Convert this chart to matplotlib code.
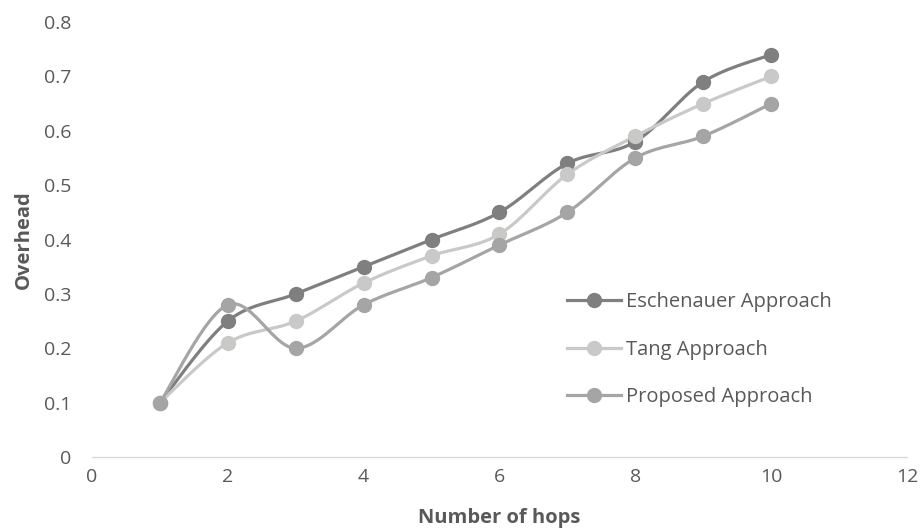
import numpy as np
import matplotlib
matplotlib.use("Agg")
import matplotlib.pyplot as plt

hops = [1, 2, 3, 4, 5, 6, 7, 8, 9, 10]
eschenauer = [0.10, 0.25, 0.30, 0.35, 0.40, 0.45, 0.54, 0.58, 0.69, 0.74]
tang = [0.10, 0.21, 0.25, 0.32, 0.37, 0.41, 0.52, 0.59, 0.65, 0.70]
proposed = [0.10, 0.28, 0.20, 0.28, 0.33, 0.39, 0.45, 0.55, 0.59, 0.65]

series = [
    ("Eschenauer Approach", eschenauer, "#7f7f7f"),
    ("Tang Approach", tang, "#c9cac8"),
    ("Proposed Approach", proposed, "#a5a5a5"),
]


def smooth(x, y, n=30):
    # Excel-like smoothed line: cubic Bezier through each pair of points
    x = np.asarray(x, float)
    y = np.asarray(y, float)
    px = np.concatenate([[x[0]], x, [x[-1]]])
    py = np.concatenate([[y[0]], y, [y[-1]]])
    t = np.linspace(0, 1, n)
    xs, ys = [], []
    for i in range(1, len(px) - 2):
        p0 = np.array([px[i], py[i]])
        p3 = np.array([px[i + 1], py[i + 1]])
        c1 = p0 + (np.array([px[i + 1], py[i + 1]]) - np.array([px[i - 1], py[i - 1]])) / 6
        c2 = p3 - (np.array([px[i + 2], py[i + 2]]) - np.array([px[i], py[i]])) / 6
        b = ((1 - t) ** 3)[:, None] * p0 + (3 * (1 - t) ** 2 * t)[:, None] * c1 \
            + (3 * (1 - t) * t ** 2)[:, None] * c2 + (t ** 3)[:, None] * p3
        xs.append(b[:, 0])
        ys.append(b[:, 1])
    return np.concatenate(xs), np.concatenate(ys)


plt.rcParams["font.family"] = ["Open Sans", "DejaVu Sans"]

fig = plt.figure(figsize=(9.22, 5.32), dpi=100)
ax = fig.add_axes([0.0998, 0.141, 0.8839, 0.8176])

for name, vals, col in series:
    sx, sy = smooth(hops, vals)
    ax.plot(sx, sy, color=col, lw=2.3, solid_capstyle="round", zorder=2)
    ax.plot(hops, vals, "o", color=col, ms=10, zorder=3)
    ax.plot([], [], "-o", color=col, lw=2.3, ms=10, label=name)

ax.set_xlim(0, 12)
ax.set_ylim(0, 0.8)
ax.set_xticks(np.arange(0, 13, 2))
ax.set_yticks(np.arange(0, 0.81, 0.1))
ax.set_yticklabels([f"{v:.1f}" if v > 0 else "0" for v in np.arange(0, 0.81, 0.1)])

for s in ["top", "right", "left"]:
    ax.spines[s].set_visible(False)
ax.spines["bottom"].set_color("#d9d9d9")
ax.spines["bottom"].set_linewidth(1)
ax.tick_params(axis="both", length=0, labelsize=14, colors="#595959")
ax.tick_params(axis="y", pad=15)
ax.tick_params(axis="x", pad=8)

ax.set_xlabel("Number of hops", fontsize=14.5, fontweight="bold", color="#595959", labelpad=16)
ax.set_ylabel("Overhead", fontsize=14.5, fontweight="bold", color="#595959", labelpad=7)

leg = ax.legend(loc="upper left", bbox_to_anchor=(0.56, 0.42), frameon=False,
                fontsize=14.5, labelcolor="#595959", handlelength=2.7,
                handletextpad=0.25, labelspacing=1.35)

fig.savefig("out.png", dpi=100)
